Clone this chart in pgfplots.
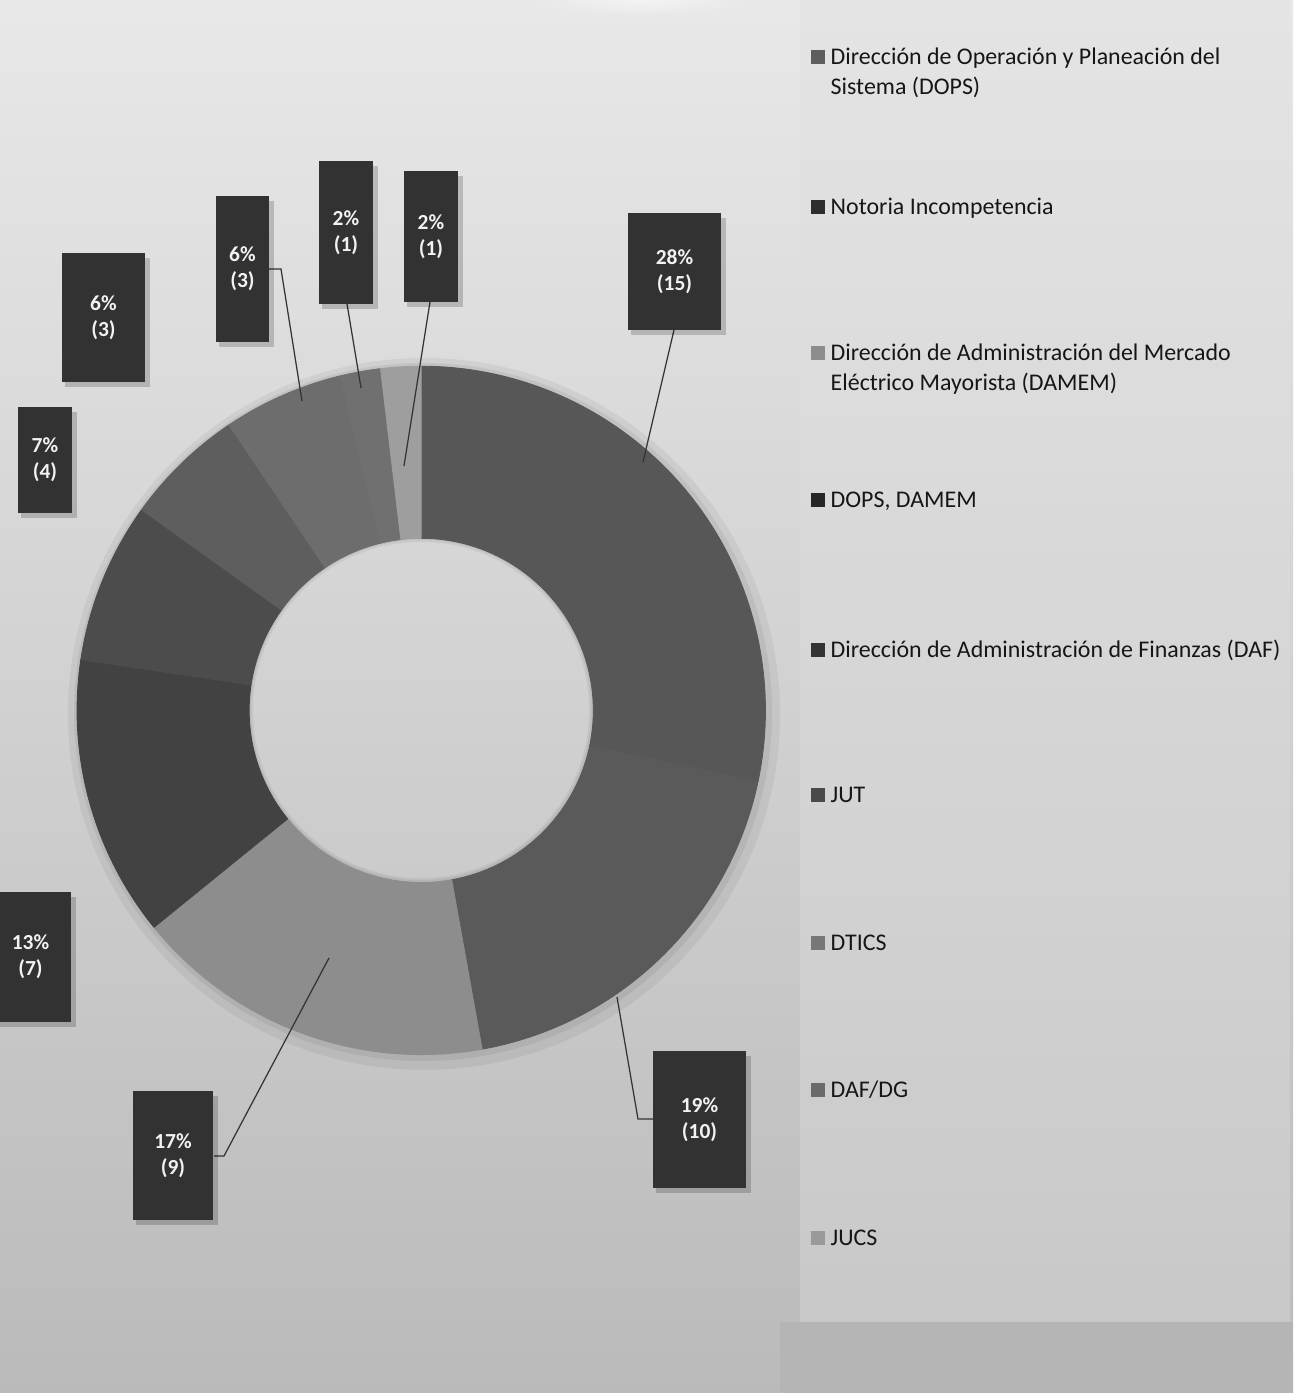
\documentclass[border=0pt]{standalone}
\usepackage{fontspec}
\setmainfont{Carlito}
\usepackage{pgfplots}
\usepackage{pgfplotstable}
\pgfplotsset{compat=1.18}

% slice shades (as they look in the donut)
\definecolor{s0}{HTML}{575757}
\definecolor{s1}{HTML}{5A5A5A}
\definecolor{s2}{HTML}{8D8D8D}
\definecolor{s3}{HTML}{424242}
\definecolor{s4}{HTML}{4C4C4C}
\definecolor{s5}{HTML}{5E5E5E}
\definecolor{s6}{HTML}{6D6D6D}
\definecolor{s7}{HTML}{707070}
\definecolor{s8}{HTML}{9E9E9E}
% legend squares
\definecolor{l0}{HTML}{5E5E5E}
\definecolor{l1}{HTML}{2E2E2E}
\definecolor{l2}{HTML}{8C8C8C}
\definecolor{l3}{HTML}{262626}
\definecolor{l4}{HTML}{333333}
\definecolor{l5}{HTML}{4A4A4A}
\definecolor{l6}{HTML}{777777}
\definecolor{l7}{HTML}{6A6A6A}
\definecolor{l8}{HTML}{9A9A9A}
\definecolor{boxc}{HTML}{323232}
\definecolor{txt}{HTML}{161616}

% count of cases per area, clockwise from 12 o'clock
\pgfplotstableread{
n   pct
15  28
10  19
9   17
7   13
4   7
3   6
3   6
1   2
1   2
}\donut

\newcommand\lblfont{\fontsize{6.1pt}{7.4pt}\selectfont\bfseries}
\newcommand\legfont{\fontsize{6.8pt}{8.5pt}\selectfont}

% label box: x1 y1 x2 y2 text (pixel coordinates)
\newcommand\lbl[5]{%
  \fill[black, opacity=0.18] (#1+3,#2+5) rectangle (#3+5,#4+5);
  \fill[boxc] (#1,#2) rectangle (#3,#4);
  \node[text=white!95!black, align=center, font=\lblfont, inner sep=0pt]
    at ({(#1+#3)/2},{(#2+#4)/2}) {#5};
}
% legend entry: y, colour, first line, second line
\newcommand\leg[4]{%
  \fill[#2] (811,#1-7) rectangle (825,#1+7);
  \node[anchor=base west, text=txt, font=\legfont, inner sep=0pt] at (830,#1+7.5) {#3};
  \node[anchor=base west, text=txt, font=\legfont, inner sep=0pt] at (830,#1+37.5) {#4};
}

\begin{document}
\begin{tikzpicture}
% background, in pixel coordinates of the reference
\begin{scope}[x=0.01cm, y=-0.01cm, shift={(0,13.93cm)}]
  \shade[top color=white!91!black, bottom color=white!73!black] (0,0) rectangle (1293,1393);
  \shade[top color=white!89!black, bottom color=white!81!black, opacity=0.7] (800,0) rectangle (1290,1322);
  \fill[white!71!black] (780,1322) rectangle (1293,1393);
  \shade[inner color=white, outer color=white!91!black, opacity=0.5] (640,0) ellipse [x radius=110, y radius=16];
  % soft shadow round the donut (a ring, so the hole stays light)
  \fill[black, opacity=0.05, even odd rule] (424,714) circle [radius=356] (421,710) circle [radius=168];
  \fill[black, opacity=0.06, even odd rule] (423,712) circle [radius=349] (421,710) circle [radius=170];
\end{scope}

\begin{axis}[
    at={(0,0)}, anchor=south west,
    x=1cm, y=1cm,
    xmin=0, xmax=12.93, ymin=0, ymax=13.93,
    scale only axis,
    hide axis,
    clip=false,
]
  % total of the series
  \pgfmathsetmacro\tot{0}
  \pgfplotsforeachungrouped \i in {0,...,8}{%
    \pgfplotstablegetelem{\i}{n}\of\donut
    \pgfmathsetmacro\tot{\tot+\pgfplotsretval}%
  }
  % annular sectors
  \pgfmathsetmacro\cum{0}
  \pgfplotsforeachungrouped \i in {0,...,8}{%
    \pgfplotstablegetelem{\i}{n}\of\donut
    \pgfmathsetmacro\a{90-\cum/\tot*360}%
    \pgfmathsetmacro\cum{\cum+\pgfplotsretval}%
    \pgfmathsetmacro\b{90-\cum/\tot*360}%
    \pgfmathsetmacro\xo{4.21+3.44*cos(\a)}%
    \pgfmathsetmacro\yo{6.83+3.44*sin(\a)}%
    \pgfmathsetmacro\xi{4.21+1.72*cos(\b)}%
    \pgfmathsetmacro\yi{6.83+1.72*sin(\b)}%
    \edef\temp{\noexpand\filldraw[fill=s\i, draw=s\i, line width=0.25pt, line join=round]
      (axis cs:\xo,\yo) arc[start angle=\a, end angle=\b, radius=3.44]
      -- (axis cs:\xi,\yi) arc[start angle=\b, end angle=\a, radius=1.72] -- cycle;}%
    \temp
  }
\end{axis}

\begin{scope}[x=0.01cm, y=-0.01cm, shift={(0,13.93cm)}]
  % leader lines
  \draw[black!80, line width=0.35pt] (674,330) -- (643,462);
  \draw[black!80, line width=0.35pt] (617,997) -- (638,1119) -- (653,1119);
  \draw[black!80, line width=0.35pt] (329,958) -- (224,1156) -- (214,1156);
  \draw[black!80, line width=0.35pt] (269,269) -- (281,269) -- (302,401);
  \draw[black!80, line width=0.35pt] (347,304) -- (361,388);
  \draw[black!80, line width=0.35pt] (430,302) -- (404,466);
  % data labels
  \lbl{628}{213}{721}{330}{28\%\\(15)}
  \lbl{653}{1051}{746}{1188}{19\%\\(10)}
  \lbl{133}{1091}{213}{1220}{17\%\\(9)}
  \lbl{-10}{892}{71}{1022}{13\%\\(7)}
  \lbl{18}{407}{72}{513}{7\%\\(4)}
  \lbl{62}{253}{145}{382}{6\%\\(3)}
  \lbl{216}{196}{269}{342}{6\%\\(3)}
  \lbl{319}{161}{373}{304}{2\%\\(1)}
  \lbl{404}{171}{458}{302}{2\%\\(1)}
  % legend
  \leg{57}{l0}{Dirección de Operación y Planeación del}{Sistema (DOPS)}
  \leg{207}{l1}{Notoria Incompetencia}{}
  \leg{353}{l2}{Dirección de Administración del Mercado}{Eléctrico Mayorista (DAMEM)}
  \leg{500}{l3}{DOPS, DAMEM}{}
  \leg{650}{l4}{Dirección de Administración de Finanzas (DAF)}{}
  \leg{795}{l5}{JUT}{}
  \leg{943}{l6}{DTICS}{}
  \leg{1090}{l7}{DAF/DG}{}
  \leg{1238}{l8}{JUCS}{}
  \pgfresetboundingbox
  \path[use as bounding box] (0,0) rectangle (1293,1393);
\end{scope}
\end{tikzpicture}
\end{document}
